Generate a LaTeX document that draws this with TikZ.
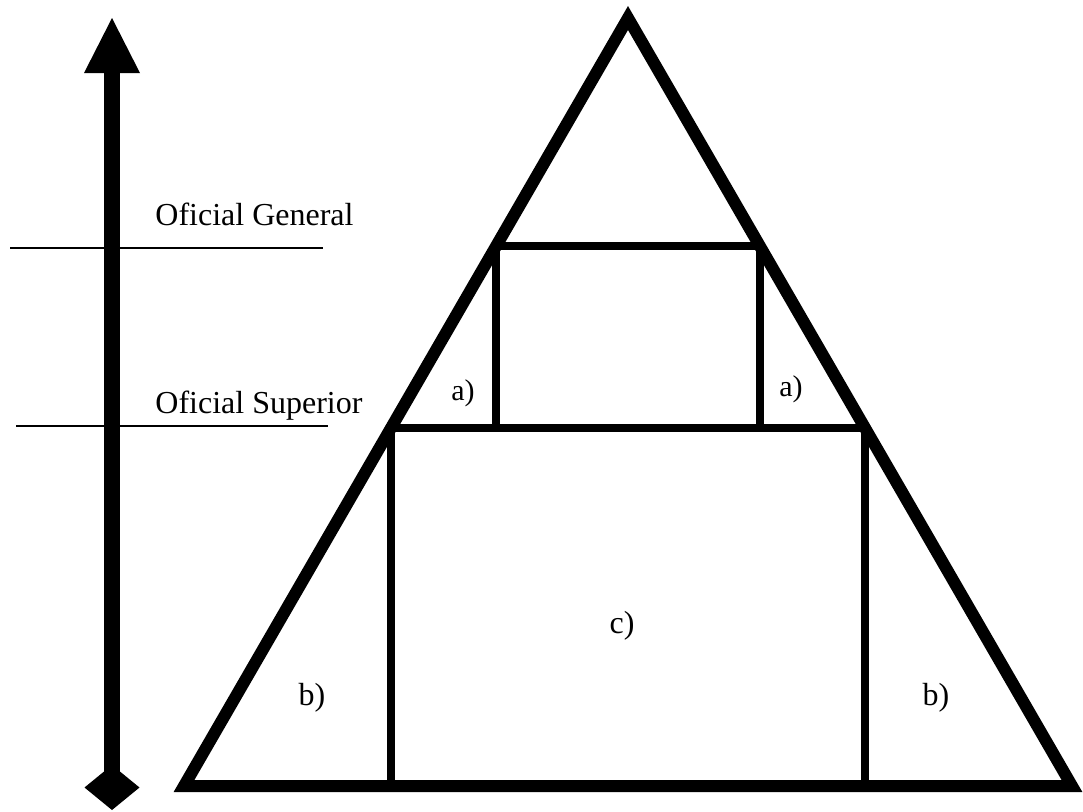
\documentclass[tikz,border=0pt]{standalone}
\usepackage{fontspec}
\setmainfont{Liberation Serif}
\usetikzlibrary{arrows.meta,calc}

\begin{document}
\begin{tikzpicture}[
    x=0.5pt, y=-0.5pt,
    frame/.style={line width=6pt, line join=miter},
    tier/.style={line width=3.75pt},
    rank/.style={line width=1pt},
    ladder/.style={line width=8pt, {Diamond[length=22.5pt, width=27.5pt, line width=0pt]}-{Triangle[length=27.5pt, width=28pt, line width=0pt]}},
    rankname/.style={anchor=base west, inner sep=0pt, font=\fontsize{16}{19}\selectfont},
    zone/.style={inner sep=0pt, font=\fontsize{16}{19}\selectfont},
    smallzone/.style={inner sep=0pt, font=\fontsize{15}{18}\selectfont}
]
    \useasboundingbox (0,0) rectangle (1083,811);

    % scale of ranks
    \coordinate (bot) at (112,810);
    \coordinate (top) at (112,18);
    \draw[ladder] (bot) -- (top);

    \coordinate (genL) at (10,248);
    \coordinate (genR) at (323,248);
    \coordinate (supL) at (16,426);
    \coordinate (supR) at (328,426);
    \draw[rank] (genL) -- (genR);
    \draw[rank] (supL) -- (supR);
    \node[rankname] (gen) at (155,225) {Oficial General};
    \node[rankname] (sup) at (155,413) {Oficial Superior};

    % pyramid
    \coordinate (apex) at (628,18);
    \coordinate (bl) at (184,786);
    \coordinate (br) at (1072,786);
    \draw[frame] (apex) -- (bl) -- (br) -- cycle;

    \coordinate (ul) at ($(apex)!0.2969!(bl)$);
    \coordinate (ur) at ($(apex)!0.2969!(br)$);
    \coordinate (ml) at ($(apex)!0.5339!(bl)$);
    \coordinate (mr) at ($(apex)!0.5339!(br)$);
    \draw[tier] (ml -| ul) -- (ul) -- (ur) -- (mr -| ur);
    \draw[tier] (ml) -- (mr);
    \draw[tier] (ml) -- (ml |- bl);
    \draw[tier] (mr) -- (mr |- br);

    % zones
    \node[smallzone] (a1) at (463,393) {a)};
    \node[smallzone] (a2) at (791,389) {a)};
    \node[zone] (b1) at (312,698) {b)};
    \node[zone] (b2) at (936,698) {b)};
    \node[zone] (c) at (622,626) {c)};
\end{tikzpicture}
\end{document}
